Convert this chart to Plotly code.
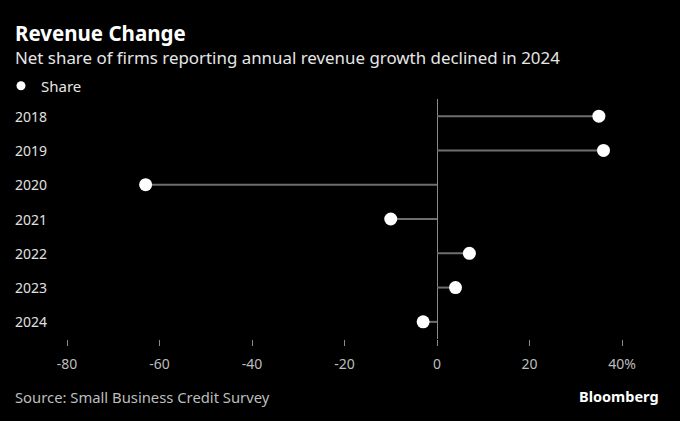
import plotly.graph_objects as go

years = ["2018", "2019", "2020", "2021", "2022", "2023", "2024"]
share = [35, 36, -63, -10, 7, 4, -3]
tick_vals = [-80, -60, -40, -20, 0, 20, 40]
tick_text = ["-80", "-60", "-40", "-20", "0", "20", "40%"]

FONT = "Noto Sans"
W, H = 680, 421
ML, MR, MT, MB = 67, 58, 99, 82
PW = W - ML - MR
PH = H - MT - MB

def px_x(p):
    return (p - ML) / PW

def px_y(p):
    return 1 - (p - MT) / PH

lx, ly = [], []
for yr, v in zip(years, share):
    lx += [0, v, None]
    ly += [yr, yr, None]

fig = go.Figure()
fig.add_trace(go.Scatter(x=lx, y=ly, mode="lines",
                         line=dict(color="#6e6e6e", width=2),
                         showlegend=False, hoverinfo="skip"))
fig.add_trace(go.Scatter(x=share, y=years, mode="markers", name="Share",
                         marker=dict(color="white", size=13),
                         showlegend=False))
# legend entry (smaller dot, as in the reference legend)
fig.add_trace(go.Scatter(x=[None], y=[None], mode="markers", name="Share",
                         marker=dict(color="white", size=9),
                         showlegend=True))

n = len(years)
annotations = []
for i, yr in enumerate(years):
    annotations.append(dict(x=px_x(13), y=n - 1 - i, xref="paper", yref="y",
                            text=yr, showarrow=False, xanchor="left",
                            yanchor="middle",
                            font=dict(family=FONT, size=14, color="#e0e0e0")))
annotations += [
    dict(x=px_x(13), y=px_y(33), xref="paper", yref="paper",
         text="<b>Revenue Change</b>", showarrow=False, xanchor="left",
         yanchor="middle", font=dict(family=FONT, size=20.5, color="#ffffff")),
    dict(x=px_x(13), y=px_y(58), xref="paper", yref="paper",
         text="Net share of firms reporting annual revenue growth declined in 2024",
         showarrow=False, xanchor="left", yanchor="middle",
         font=dict(family=FONT, size=16.9, color="#e6e6e6")),
    dict(x=px_x(13), y=px_y(397), xref="paper", yref="paper",
         text="Source: Small Business Credit Survey", showarrow=False,
         xanchor="left", yanchor="middle",
         font=dict(family=FONT, size=14.8, color="#bdbdbd")),
    dict(x=px_x(661), y=px_y(396), xref="paper", yref="paper",
         text="<b>Bloomberg</b>", showarrow=False, xanchor="right",
         yanchor="middle",
         font=dict(family=FONT, size=14.5, color="#ffffff")),
]

fig.update_layout(
    width=W, height=H,
    margin=dict(l=ML, r=MR, t=MT, b=MB, autoexpand=False),
    paper_bgcolor="black", plot_bgcolor="black",
    font=dict(family=FONT, color="#dddddd"),
    showlegend=True,
    legend=dict(x=px_x(1), y=px_y(86), xanchor="left", yanchor="middle",
                orientation="h", bgcolor="rgba(0,0,0,0)",
                font=dict(family=FONT, size=15, color="#e6e6e6"),
                itemwidth=30),
    annotations=annotations,
    xaxis=dict(range=[-80, 40], tickvals=tick_vals, ticktext=tick_text,
               showgrid=False, zeroline=True, zerolinecolor="#8a8a8a",
               zerolinewidth=1, showline=False, ticks="outside",
               ticklen=6, tickcolor="#8a8a8a", tickwidth=1,
               ticklabelstandoff=6,
               tickfont=dict(family=FONT, size=14, color="#bdbdbd"),
               fixedrange=True),
    yaxis=dict(type="category", categoryorder="array",
               categoryarray=years[::-1],
               range=[-0.5, n - 0.5], showticklabels=False, showgrid=False,
               zeroline=False, showline=False, fixedrange=True),
)

fig.write_html("out.html",
               config={"displayModeBar": False},
               post_script="document.body.style.margin='0';"
                           "document.body.style.background='black';")
